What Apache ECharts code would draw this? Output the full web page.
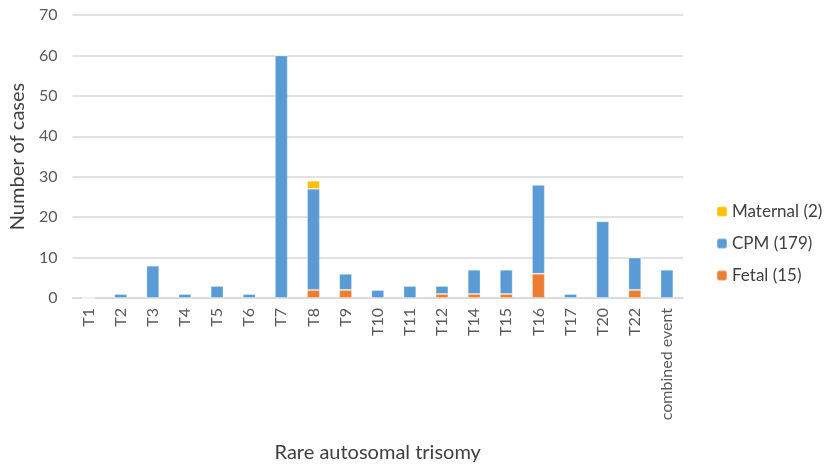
<!DOCTYPE html>
<html>
<head>
<meta charset="utf-8">
<script src="https://cdn.jsdelivr.net/npm/echarts@6/dist/echarts.min.js"></script>
<style>
  html, body { margin: 0; padding: 0; background: #fff; }
  #main { width: 825px; height: 468px; }
</style>
</head>
<body>
<div id="main"></div>
<script>
const categories = ['T1', 'T2', 'T3', 'T4', 'T5', 'T6', 'T7', 'T8', 'T9', 'T10', 'T11', 'T12', 'T14', 'T15', 'T16', 'T17', 'T20', 'T22', 'combined event'];
const fetal    = [0, 0, 0, 0, 0, 0, 0, 2, 2, 0, 0, 1, 1, 1, 6, 0, 0, 2, 0];
const cpm      = [0, 1, 8, 1, 3, 1, 60, 25, 4, 2, 3, 2, 6, 6, 22, 1, 19, 8, 7];
const maternal = [0, 0, 0, 0, 0, 0, 0, 2, 0, 0, 0, 0, 0, 0, 0, 0, 0, 0, 0];
const yTicks = [0, 10, 20, 30, 40, 50, 60, 70];

const font = 'Lato, "Open Sans", sans-serif';
const textColor = '#595959';

var chart = echarts.init(document.getElementById('main'));

const barStyle = (color) => ({
  color: color,
  borderColor: 'rgba(255,255,255,0.25)',
  borderWidth: 1
});

chart.setOption({
  animation: false,
  textStyle: { fontFamily: font },
  grid: { left: 69, right: 142, top: 15, bottom: 170 },
  legend: {
    orient: 'vertical',
    left: 711,
    top: 198,
    itemWidth: 10,
    itemHeight: 10,
    itemGap: 15,
    textStyle: { fontSize: 17, color: '#404040', fontFamily: font },
    data: ['Maternal (2)', 'CPM (179)', 'Fetal (15)']
  },
  xAxis: {
    type: 'category',
    data: categories,
    name: 'Rare autosomal trisomy',
    nameLocation: 'middle',
    nameGap: 145,
    nameTextStyle: { fontSize: 20, color: '#404040' },
    axisTick: { show: false },
    axisLine: { lineStyle: { color: '#d9d9d9', width: 1.5 } },
    axisLabel: { rotate: 90, fontSize: 16, color: textColor, margin: 10, interval: 0 }
  },
  yAxis: {
    type: 'value',
    min: yTicks[0],
    max: yTicks[yTicks.length - 1],
    interval: 10,
    name: 'Number of cases',
    nameLocation: 'middle',
    nameGap: 41,
    nameTextStyle: { fontSize: 20, color: '#404040' },
    axisLine: { show: false },
    axisTick: { show: false },
    axisLabel: { fontSize: 16, color: textColor, margin: 15 },
    splitLine: { lineStyle: { color: '#d9d9d9', width: 1.5 } }
  },
  series: [
    { name: 'Fetal (15)', type: 'bar', stack: 'total', barWidth: '40%', itemStyle: barStyle('#ED7D31'), data: fetal },
    { name: 'CPM (179)', type: 'bar', stack: 'total', barWidth: '40%', itemStyle: barStyle('#5B9BD5'), data: cpm },
    { name: 'Maternal (2)', type: 'bar', stack: 'total', barWidth: '40%', itemStyle: barStyle('#FFC000'), data: maternal }
  ]
});
</script>
</body>
</html>
